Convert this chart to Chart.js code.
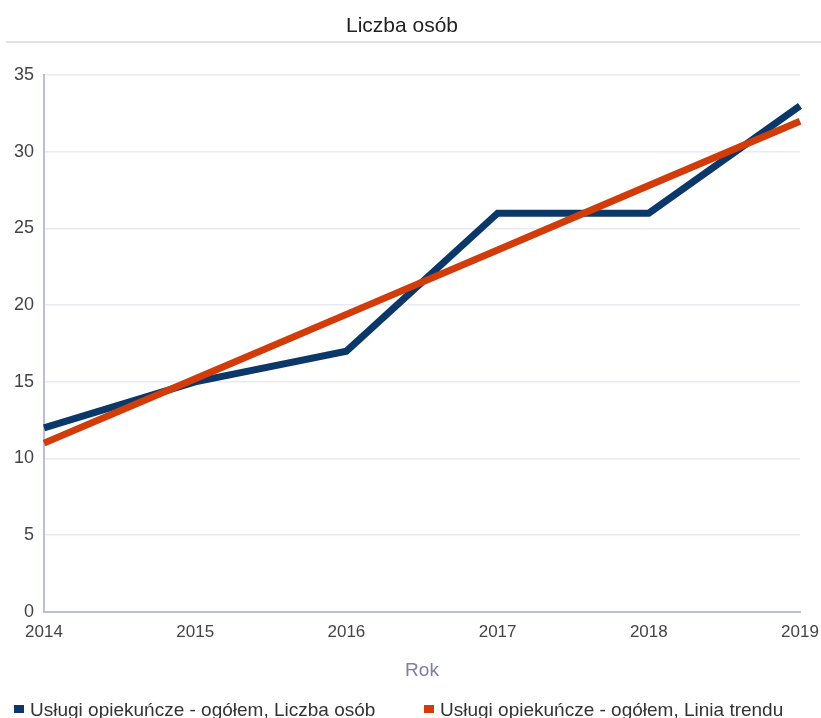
<!DOCTYPE html>
<html>
<head>
<meta charset="utf-8">
<script src="https://cdn.jsdelivr.net/npm/chart.js@4/dist/chart.umd.min.js"></script>
<style>
    html, body { margin: 0; padding: 0; background: #fff; overflow: hidden; }
    #wrap { position: relative; width: 821px; height: 718px; overflow: hidden; }
    #legenda { position: absolute; left: 14px; top: 700px; white-space: nowrap;
               font-family: 'Liberation Sans', Arial, sans-serif; font-size: 19px; line-height: 20px; color: #333; }
    #legenda .poz { position: absolute; top: 0; display: flex; align-items: center; }
    #legenda .kw { width: 10px; height: 8px; margin-right: 6px; margin-top: -2px; }
</style>
</head>
<body>
<div id="wrap">
    <canvas id="wykres"></canvas>
    <div id="legenda"></div>
</div>
<script>
// dane
const lata = ['2014', '2015', '2016', '2017', '2018', '2019'];
const liczbaOsob = [12, 15, 17, 26, 26, 33];
const liniaTrendu = [11, 15.2, 19.4, 23.6, 27.8, 32];
const osY = [0, 5, 10, 15, 20, 25, 30, 35];

const FONT = "'Liberation Sans', Arial, sans-serif";

// linia pod tytulem
const separator = {
    id: 'separator',
    afterDraw(chart) {
        const ctx = chart.ctx;
        ctx.save();
        ctx.strokeStyle = '#dfe1ea';
        ctx.lineWidth = 2;
        ctx.beginPath();
        ctx.moveTo(6, 42);
        ctx.lineTo(chart.width, 42);
        ctx.stroke();
        ctx.restore();
    }
};

const ctx = document.getElementById('wykres').getContext('2d');
const chart = new Chart(ctx, {
    type: 'line',
    data: {
        labels: lata,
        datasets: [{
            label: 'Usługi opiekuńcze - ogółem, Liczba osób',
            data: liczbaOsob,
            borderColor: '#0b3868',
            backgroundColor: '#0b3868',
            borderWidth: 7,
            pointRadius: 0,
            tension: 0,
            order: 2
        }, {
            label: 'Usługi opiekuńcze - ogółem, Linia trendu',
            data: liniaTrendu,
            borderColor: '#d23c0b',
            backgroundColor: '#d23c0b',
            borderWidth: 7,
            pointRadius: 0,
            tension: 0,
            order: 1
        }]
    },
    options: {
        responsive: true,
        maintainAspectRatio: false,
        animation: false,
        layout: {
            padding: { left: 4, right: 21, top: 0, bottom: 25 }
        },
        plugins: {
            title: {
                display: true,
                text: 'Liczba osób',
                color: '#222',
                font: { family: FONT, size: 21, weight: 'normal' },
                padding: { top: 14, bottom: 36 }
            },
            legend: { display: false },
            tooltip: { enabled: false }
        },
        scales: {
            x: {
                offset: false,
                grid: { display: false, drawTicks: false },
                border: { color: '#babed6', width: 2 },
                afterFit: (scale) => { scale.paddingRight = 0; scale.paddingLeft = 0; },
                ticks: {
                    color: '#444',
                    padding: 10,
                    maxRotation: 0,
                    font: { family: FONT, size: 17 }
                },
                title: {
                    display: true,
                    text: 'Rok',
                    color: '#7b80a6',
                    font: { family: FONT, size: 19 },
                    padding: { top: 7, bottom: 11 }
                }
            },
            y: {
                min: 0,
                max: 35,
                afterBuildTicks: (axis) => { axis.ticks = osY.map(v => ({ value: v })); },
                grid: { color: '#e8e9f1', lineWidth: 1.5, drawTicks: false },
                border: { color: '#babed6', width: 2 },
                ticks: {
                    color: '#444',
                    padding: 10,
                    font: { family: FONT, size: 18 }
                }
            }
        }
    },
    plugins: [separator]
});

// legenda w HTML (pozycje jak w oryginale)
const pozycjeLegendy = [0, 410];
const legenda = document.getElementById('legenda');
chart.data.datasets.forEach((ds, i) => {
    const poz = document.createElement('div');
    poz.className = 'poz';
    poz.style.left = pozycjeLegendy[i] + 'px';
    poz.innerHTML = '<span class="kw" style="background:' + ds.borderColor + '"></span><span>' + ds.label + '</span>';
    legenda.appendChild(poz);
});
</script>
</body>
</html>
